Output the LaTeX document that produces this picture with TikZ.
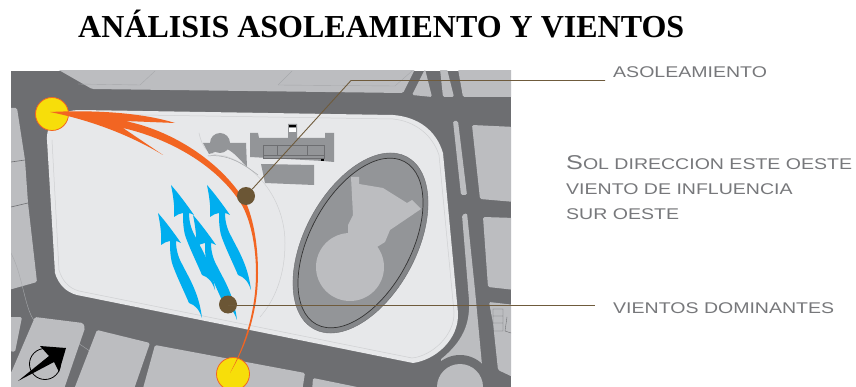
\documentclass[tikz,border=0pt]{standalone}
\usepackage{fontspec}
\setmainfont{Liberation Serif}
\newfontfamily\labfont[FakeStretch=1.26]{Liberation Sans}
\definecolor{road}{HTML}{6D6E71}
\definecolor{block}{HTML}{BCBDC0}
\definecolor{plot}{HTML}{E7E8EA}
\definecolor{faint}{HTML}{CFD0D2}
\definecolor{faintb}{HTML}{A7A9AC}
\definecolor{bldg}{HTML}{939598}
\definecolor{solar}{HTML}{F7DE0A}
\definecolor{flame}{HTML}{F26522}
\definecolor{windc}{HTML}{00AEEF}
\definecolor{brownd}{HTML}{6B5635}
\definecolor{leader}{HTML}{6F5B3C}
\definecolor{labc}{HTML}{77787B}
\newcommand{\windarrow}[2]{%
\fill[windc,shift={(#1,#2)}] (0,0) .. controls (8,9) and (16,20) .. (23,30)
 .. controls (21,29) and (19,28) .. (18,28)
 .. controls (18,36) and (20,44) .. (24,51)
 .. controls (31,65) and (41,80) .. (44,105)
 .. controls (41,96) and (37,92) .. (31,90)
 .. controls (25,76) and (18,62) .. (14,50)
 .. controls (12,42) and (12,34) .. (12,28)
 .. controls (9,28) and (6,30) .. (3,32)
 .. controls (4,22) and (2,10) .. (0,0) -- cycle;}
\tikzset{
 x=1pt,y=-1pt,
 blockshape/.style={fill=block,draw=none,rounded corners=1.5pt},
 faintline/.style={draw=faint,line width=.5pt},
 faintdark/.style={draw=faintb,line width=.4pt},
 sunshape/.style={circle,fill=solar,draw=flame,line width=.8pt,minimum size=33pt,inner sep=0pt},
 browndot/.style={circle,fill=brownd,draw=none,minimum size=18pt,inner sep=0pt},
 leaderline/.style={draw=leader,line width=.9pt},
 maplabel/.style={anchor=base west,inner sep=0pt,text=labc,font=\labfont\fontsize{15.5}{18}\selectfont},
 bldgshape/.style={fill=bldg,draw=none},
}
\begin{document}
\begin{tikzpicture}
\useasboundingbox (0,0) rectangle (856,387);
\fill[white] (0,0) rectangle (856,387);
\begin{scope}
\clip (11,71) rectangle (511,387);
\fill[road] (11,71) rectangle (511,387);
% blocks top
\fill[blockshape] (57,69) -- (92,89) -- (403,93) -- (415,69) -- cycle;
\fill[blockshape] (425,69) -- (412,95) -- (432,97) -- cycle;
\fill[blockshape] (440,69) -- (447,69) -- (454,97) -- (443,97) -- cycle;
\fill[blockshape] (458,69) -- (515,69) -- (515,97) -- (463,97) -- cycle;
\draw[faintdark] (78,84) -- (140,85) -- (155,71);
\draw[faintdark] (278,85) -- (395,86) -- (412,71);
\draw[faintdark] (278,85) -- (292,71);
% right
\fill[blockshape] (472,125) -- (515,127) -- (515,202) -- (480,199) -- cycle;
\fill[blockshape] (483,217) -- (515,218) -- (515,290) -- (488,287) -- cycle;
\fill[blockshape] (489,302) -- (515,305) -- (515,378) -- (498,370) -- (493,323) -- cycle;
\fill[blockshape] (453,121) -- (458,121) -- (467,195) -- (461,195) -- cycle;
\fill[blockshape] (462,215) -- (467,213) -- (475,290) -- (482,365) -- (460,380) -- (440,360)
 .. controls (462,342) and (470,325) .. (469,300) -- cycle;
% left
\fill[blockshape] (5,108) -- (17,108) -- (25,160) -- (28,203) -- (37,282) -- (5,291) -- cycle;
\draw[road,line width=.6pt] (11,162) -- (25,160) (11,207) -- (28,203);
\draw[faintdark] (11,253) .. controls (25,280) and (25,320) .. (40,325) .. controls (70,335) and (100,355) .. (130,387);
% bottom
\fill[blockshape] (5,317) -- (22,317) -- (15,352) -- (5,350) -- cycle;
\fill[blockshape] (35,317) -- (83,323) -- (85,328) -- (63,392) -- (5,392) -- (5,373) -- (11,373) -- cycle;
\fill[blockshape] (97,330) -- (150,343) -- (133,392) -- (73,392) -- cycle;
\fill[blockshape] (155,345) -- (305,373) -- (302,392) -- (142,392) -- cycle;
\fill[blockshape] (313,378) -- (367,389) -- (312,392) -- cycle;
\fill[road] (460,387) circle[radius=32];
\fill[block] (460,387) circle[radius=23];
% plot
\fill[plot] (80,110) -- (393,115) .. controls (418,117) and (436,130) .. (443,153)
 -- (458,313) .. controls (459,340) and (435,360) .. (413,363)
 -- (77,295) .. controls (65,292) and (58,283) .. (55,273)
 -- (47,140) .. controls (46,122) and (60,110) .. (80,110) -- cycle;
\draw[faintline] (80,114) -- (393,119) .. controls (414,121) and (432,134) .. (439,155)
 -- (454,312) .. controls (455,335) and (432,356) .. (412,358)
 -- (79,291) .. controls (68,288) and (62,280) .. (59,270)
 -- (52,140);
\draw[faintline] (199,133) .. controls (203,150) and (208,155) .. (225,156)
 .. controls (262,168) and (285,205) .. (285,243)
 .. controls (285,275) and (275,300) .. (260,317);
\draw[faintb,line width=.5pt] (208,156) .. controls (225,154) and (240,161) .. (258,175);
% buildings
\fill[bldgshape] (220,143) circle[radius=10];
\fill[bldgshape] (203,143) -- (246,143) -- (247,167)
 .. controls (240,160) and (235,153) .. (227,149) .. controls (221,150) and (215,152) .. (209,154) -- cycle;
\fill[bldgshape] (250,133) -- (258,133) -- (259,138) -- (288,138) -- (288,124) -- (297,124) -- (297,138)
 -- (325,138) -- (325,133) -- (334,133) -- (334,162) -- (323,161) -- (250,157) -- cycle;
\fill[white] (289,128) rectangle (296,132);
\fill[black] (289,125.5) rectangle (296,127.5);
\fill[black] (321,159.5) rectangle (324,161.5);
\draw[road,line width=.4pt] (263,145) rectangle (324,158) (263,155) -- (324,155) (277,145) -- (277,155) (307,145) -- (307,155);
\fill[bldgshape] (261,164) -- (314,165) -- (314,185) -- (265,183) -- cycle;
\draw[road,line width=.4pt] (493,309) rectangle (503,331) (493,316) -- (503,316) (493,323) -- (503,323) (507,317) -- (505,331) -- (511,333);
% stadium
\begin{scope}[shift={(360.5,243)},rotate=61.6]
\fill[bldg!90!black,draw=road,line width=.4pt] (0,0) ellipse[x radius=97.8,y radius=55.7];
\fill[bldg,draw=black!80,line width=.7pt] (0,0) ellipse[x radius=92.5,y radius=50.5];
\end{scope}
\fill[block] (351,177) -- (359,177) -- (359,184) -- (383,188) -- (407,203) -- (412,200) -- (421,209)
 -- (390,230) -- (385,242) -- (377,247) -- (348,240) -- (348,225) -- (353,215) -- cycle;
\fill[block] (350,267) circle[radius=34];
\end{scope}
% north symbol
\draw[black,line width=.8pt] (45,364) circle[radius=15.5];
\fill[black] (18,381) -- (49,356) -- (40,346) -- (66,348) -- (59,372) -- (54,362) -- cycle;
% wind
\windarrow{158}{213}
\windarrow{171}{185}
\windarrow{193}{215}
\windarrow{207}{185}
% sun path
\node[sunshape] (sunA) at (52,114) {};
\node[sunshape] (sunB) at (233,374) {};
\fill[flame] (50,112) .. controls (90,110) and (140,112) .. (175,123) -- (125,121)
 .. controls (175,131) and (225,165) .. (247,205) .. controls (255,225) and (258,250) .. (258,273)
 .. controls (258,310) and (247,345) .. (230,373)
 .. controls (245,345) and (256,310) .. (256,273) .. controls (256,250) and (252,225) .. (243,207)
 .. controls (222,170) and (175,140) .. (123,128)
 -- (163,155) .. controls (130,135) and (90,120) .. (50,112) -- cycle;
% leaders
\node[browndot] (dotA) at (246,196) {};
\node[browndot] (dotB) at (228,304.5) {};
\coordinate (elbow) at (351,80.5);
\coordinate (endA) at (605,80.5);
\coordinate (endB) at (595,305.5);
\draw[leaderline] (dotA) -- (elbow) -- (endA);
\draw[leaderline] (dotB.center |- endB) -- (endB);
% text
\node[anchor=base west,inner sep=0pt,font=\bfseries\fontsize{32}{36}\selectfont] (title) at (78,38) {ANÁLISIS ASOLEAMIENTO Y VIENTOS};
\node[maplabel] (lab1) at (613,78) {ASOLEAMIENTO};
\node[maplabel] (lab2) at (566,170) {{\fontsize{20}{20}\selectfont S}OL DIRECCION ESTE OESTE};
\node[maplabel] (lab3) at (566,195) {VIENTO DE INFLUENCIA};
\node[maplabel] (lab4) at (566,220) {SUR OESTE};
\node[maplabel] (lab5) at (613,313) {VIENTOS DOMINANTES};
\end{tikzpicture}
\end{document}
